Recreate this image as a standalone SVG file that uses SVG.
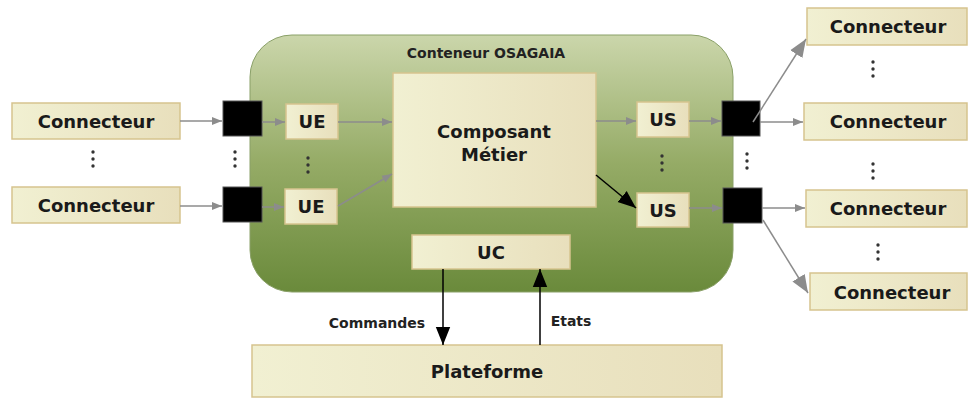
<svg xmlns="http://www.w3.org/2000/svg" width="969" height="399" viewBox="0 0 969 399">
<defs>
<linearGradient id="box" x1="0" y1="0" x2="1" y2="0">
<stop offset="0" stop-color="#f1f0d2"/>
<stop offset="1" stop-color="#e8dfbc"/>
</linearGradient>
<linearGradient id="cont" x1="0" y1="0" x2="0" y2="1">
<stop offset="0" stop-color="#cbd6ab"/>
<stop offset="0.5" stop-color="#95ab66"/>
<stop offset="1" stop-color="#6a8a3b"/>
</linearGradient>
<marker id="ag" viewBox="0 0 10 10" refX="10" refY="5" markerWidth="10" markerHeight="10" markerUnits="userSpaceOnUse" orient="auto"><path d="M0,1 L10,5 L0,9 z" fill="#8c8c8c"/></marker>
<marker id="agL" viewBox="0 0 10 10" refX="10" refY="5" markerWidth="18" markerHeight="18" markerUnits="userSpaceOnUse" orient="auto"><path d="M0,1 L10,5 L0,9 z" fill="#8c8c8c"/></marker>
<marker id="ab" viewBox="0 0 10 10" refX="10" refY="5" markerWidth="18" markerHeight="18" markerUnits="userSpaceOnUse" orient="auto"><path d="M0,1 L10,5 L0,9 z" fill="#000"/></marker>
</defs>
<style>
.b{fill:url(#box);stroke:#d6c48e;stroke-width:1.5}
.t{font-family:"DejaVu Sans",Verdana,sans-serif;font-weight:bold;font-size:18px;fill:#1a1a1a;text-anchor:middle}
.s{font-family:"DejaVu Sans",Verdana,sans-serif;font-weight:bold;font-size:14px;fill:#222;text-anchor:middle}
.g{stroke:#8c8c8c;stroke-width:1.5;fill:none}
.k{stroke:#000;stroke-width:1.5;fill:none}
.p{fill:#000;stroke:#555;stroke-width:1}
.d{fill:#333}
</style>
<rect width="969" height="399" fill="#fff"/>
<g id="conteneur">
<rect x="250" y="35" width="483" height="257" rx="42" fill="url(#cont)" stroke="#8aa068" stroke-width="1"/>
<text class="s" x="486" y="58">Conteneur OSAGAIA</text>
</g>
<g id="cin1"><rect class="b" x="12" y="103" width="168" height="36"/><text class="t" x="96" y="128">Connecteur</text></g>
<g id="cin2"><rect class="b" x="12" y="187" width="168" height="36"/><text class="t" x="96" y="212">Connecteur</text></g>
<g id="pin1"><rect class="p" x="223" y="101" width="39" height="35"/></g>
<g id="pin2"><rect class="p" x="223" y="187" width="39" height="35"/></g>
<g id="ue1"><rect class="b" x="286" y="104" width="52" height="35"/><text class="t" x="312" y="128">UE</text></g>
<g id="ue2"><rect class="b" x="285" y="189" width="52" height="35"/><text class="t" x="311" y="213">UE</text></g>
<g id="composant"><rect class="b" x="393" y="73" width="203" height="134"/><text class="t" x="494" y="138">Composant</text><text class="t" x="494" y="161">Métier</text></g>
<g id="us1"><rect class="b" x="637" y="102" width="52" height="35"/><text class="t" x="663" y="126">US</text></g>
<g id="us2"><rect class="b" x="637" y="193" width="52" height="34"/><text class="t" x="663" y="217">US</text></g>
<g id="pout1"><rect class="p" x="722" y="101" width="38" height="35"/></g>
<g id="pout2"><rect class="p" x="723" y="188" width="39" height="35"/></g>
<g id="uc"><rect class="b" x="412" y="235" width="158" height="34"/><text class="t" x="491" y="259">UC</text></g>
<g id="plateforme"><rect class="b" x="252" y="345" width="470" height="52"/><text class="t" x="487" y="378">Plateforme</text></g>
<g id="cout1"><rect class="b" x="807" y="8" width="160" height="37"/><text class="t" x="888" y="33">Connecteur</text></g>
<g id="cout2"><rect class="b" x="804" y="103" width="163" height="37"/><text class="t" x="888" y="128">Connecteur</text></g>
<g id="cout3"><rect class="b" x="806" y="190" width="161" height="37"/><text class="t" x="888" y="215">Connecteur</text></g>
<g id="cout4"><rect class="b" x="810" y="273" width="157" height="37"/><text class="t" x="892" y="299">Connecteur</text></g>
<g id="dots">
<g class="d">
<circle cx="93" cy="152" r="1.7"/><circle cx="93" cy="159" r="1.7"/><circle cx="93" cy="166" r="1.7"/>
<circle cx="235" cy="152" r="1.7"/><circle cx="235" cy="159" r="1.7"/><circle cx="235" cy="166" r="1.7"/>
<circle cx="308" cy="158" r="1.7"/><circle cx="308" cy="165" r="1.7"/><circle cx="308" cy="172" r="1.7"/>
<circle cx="662" cy="156" r="1.7"/><circle cx="662" cy="163" r="1.7"/><circle cx="662" cy="170" r="1.7"/>
<circle cx="747" cy="154" r="1.7"/><circle cx="747" cy="161" r="1.7"/><circle cx="747" cy="168" r="1.7"/>
<circle cx="873" cy="62" r="1.7"/><circle cx="873" cy="69" r="1.7"/><circle cx="873" cy="76" r="1.7"/>
<circle cx="873" cy="164" r="1.7"/><circle cx="873" cy="171" r="1.7"/><circle cx="873" cy="178" r="1.7"/>
<circle cx="878" cy="245" r="1.7"/><circle cx="878" cy="252" r="1.7"/><circle cx="878" cy="259" r="1.7"/>
</g>
</g>
<g id="connectors">
<line class="g" x1="180" y1="121" x2="222" y2="121" marker-end="url(#ag)"/>
<line class="g" x1="180" y1="206" x2="222" y2="206" marker-end="url(#ag)"/>
<line class="g" x1="262" y1="122" x2="285" y2="122" marker-end="url(#ag)"/>
<line class="g" x1="262" y1="207" x2="284" y2="207" marker-end="url(#ag)"/>
<line class="g" x1="338" y1="122" x2="392" y2="122" marker-end="url(#ag)"/>
<line class="g" x1="338" y1="206" x2="392" y2="174" marker-end="url(#ag)"/>
<line class="g" x1="596" y1="121" x2="636" y2="121" marker-end="url(#ag)"/>
<line class="k" x1="596" y1="175" x2="636" y2="208" marker-end="url(#ab)"/>
<line class="g" x1="689" y1="121" x2="721" y2="121" marker-end="url(#ag)"/>
<line class="g" x1="689" y1="208" x2="722" y2="208" marker-end="url(#ag)"/>
<line class="g" x1="753" y1="122" x2="806" y2="39" marker-end="url(#agL)"/>
<line class="g" x1="760" y1="122" x2="803" y2="122" marker-end="url(#ag)"/>
<line class="g" x1="762" y1="208" x2="805" y2="208" marker-end="url(#ag)"/>
<line class="g" x1="763" y1="220" x2="808" y2="293" marker-end="url(#agL)"/>
<line class="k" x1="443" y1="269" x2="443" y2="345" marker-end="url(#ab)"/>
<line class="k" x1="540" y1="345" x2="540" y2="269" marker-end="url(#ab)"/>
<text class="s" x="377" y="328">Commandes</text>
<text class="s" x="571" y="326">Etats</text>
</g>
</svg>
